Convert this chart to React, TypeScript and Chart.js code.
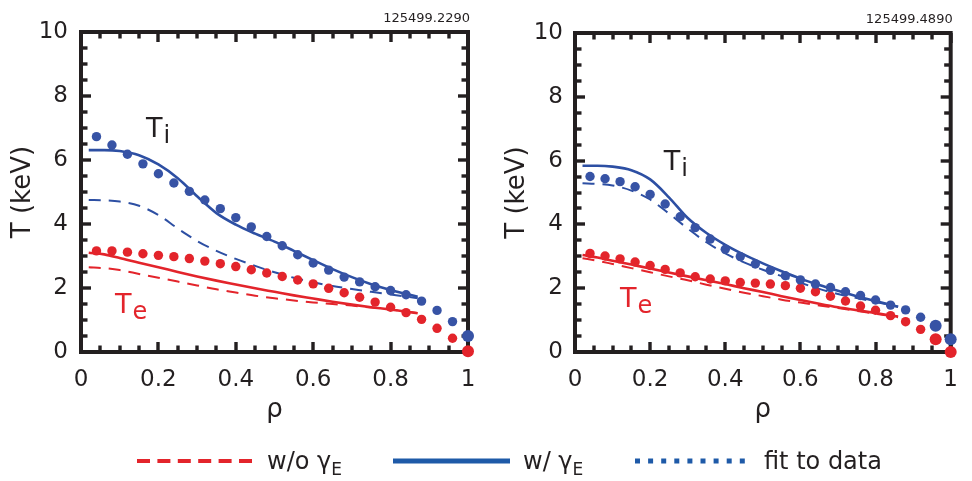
import React, { useEffect, useRef } from "react";
import { Chart, registerables } from "chart.js";
Chart.register(...registerables);

// ---------- data ----------
const xTickLabels = ["0", "0.2", "0.4", "0.6", "0.8", "1"];
const yTickLabels = ["0", "2", "4", "6", "8", "10"];

const rhoFit = [0.04, 0.08, 0.12, 0.16, 0.2, 0.24, 0.28, 0.32, 0.36, 0.4, 0.44, 0.48, 0.52, 0.56, 0.6, 0.64, 0.68, 0.72, 0.76, 0.8, 0.84, 0.88, 0.92, 0.96, 1.0];

const leftTiFit = [6.73, 6.47, 6.18, 5.88, 5.57, 5.28, 5.02, 4.75, 4.48, 4.2, 3.91, 3.61, 3.32, 3.04, 2.78, 2.56, 2.34, 2.19, 2.04, 1.92, 1.79, 1.59, 1.3, 0.95, 0.5];
const leftTeFit = [3.16, 3.16, 3.12, 3.07, 3.02, 2.98, 2.92, 2.84, 2.76, 2.67, 2.57, 2.47, 2.36, 2.25, 2.13, 1.99, 1.85, 1.71, 1.56, 1.4, 1.23, 1.02, 0.74, 0.43, 0.02];
const rightTiFit = [5.5, 5.43, 5.34, 5.18, 4.94, 4.64, 4.24, 3.9, 3.54, 3.22, 2.99, 2.76, 2.56, 2.39, 2.26, 2.13, 2.02, 1.89, 1.77, 1.63, 1.47, 1.32, 1.09, 0.82, 0.4];
const rightTeFit = [3.09, 3.01, 2.92, 2.82, 2.71, 2.59, 2.48, 2.36, 2.29, 2.23, 2.18, 2.16, 2.13, 2.08, 2.0, 1.89, 1.75, 1.6, 1.44, 1.31, 1.14, 0.95, 0.71, 0.4, 0.0];

const rhoModelLeft = [0.02, 0.06, 0.1, 0.15, 0.2, 0.25, 0.3, 0.35, 0.4, 0.45, 0.5, 0.55, 0.6, 0.65, 0.7, 0.75, 0.8, 0.87];
const leftTiWith = [6.31, 6.31, 6.28, 6.15, 5.86, 5.43, 4.87, 4.34, 3.98, 3.7, 3.45, 3.16, 2.87, 2.59, 2.34, 2.12, 1.94, 1.73];
const leftTiWithout = [4.75, 4.74, 4.7, 4.57, 4.28, 3.86, 3.47, 3.16, 2.91, 2.69, 2.49, 2.32, 2.18, 2.06, 1.97, 1.88, 1.8, 1.68];
const leftTeWith = [3.1, 3.05, 2.94, 2.79, 2.65, 2.5, 2.36, 2.23, 2.11, 1.99, 1.88, 1.77, 1.67, 1.57, 1.48, 1.4, 1.33, 1.21];
const leftTeWithout = [2.65, 2.62, 2.56, 2.44, 2.32, 2.2, 2.08, 1.96, 1.86, 1.76, 1.68, 1.61, 1.55, 1.5, 1.45, 1.39, 1.33, 1.22];

const rhoModelRight = [0.02, 0.06, 0.1, 0.15, 0.2, 0.25, 0.3, 0.35, 0.4, 0.45, 0.5, 0.55, 0.6, 0.65, 0.7, 0.75, 0.8, 0.86];
const rightTiWith = [5.84, 5.84, 5.81, 5.7, 5.41, 4.85, 4.2, 3.73, 3.36, 3.05, 2.78, 2.53, 2.3, 2.1, 1.92, 1.75, 1.6, 1.42];
const rightTiWithout = [5.29, 5.27, 5.22, 5.06, 4.78, 4.34, 3.87, 3.44, 3.09, 2.81, 2.58, 2.38, 2.17, 1.98, 1.82, 1.69, 1.57, 1.42];
const rightTeWith = [3.04, 2.96, 2.86, 2.74, 2.62, 2.49, 2.37, 2.25, 2.13, 2.0, 1.88, 1.75, 1.63, 1.51, 1.4, 1.31, 1.22, 1.11];
const rightTeWithout = [2.94, 2.86, 2.76, 2.63, 2.5, 2.37, 2.25, 2.11, 1.98, 1.86, 1.75, 1.64, 1.55, 1.46, 1.38, 1.29, 1.2, 1.09];

// ---------- styles ----------
const INK = "#231f20";
const BLUE_LINE = "#2d4fa3";
const BLUE_DOT = "#3753a5";
const RED = "#e3242b";
const LEG_BLUE = "#1e5aa8";
const FONT = "'DejaVu Sans', sans-serif";

const xy = (xs: number[], ys: number[]) => xs.map((x, i) => ({ x, y: ys[i] }));

function drawSub(ctx: CanvasRenderingContext2D, main: string, sub: string, x: number, y: number, color: string) {
  ctx.fillStyle = color;
  ctx.textAlign = "left";
  ctx.textBaseline = "alphabetic";
  ctx.font = `27px ${FONT}`;
  ctx.fillText(main, x, y);
  const w = ctx.measureText(main).width;
  ctx.font = `24px ${FONT}`;
  ctx.fillText(sub, x + w + 1, y + 6);
}

const decorPlugin = {
  id: "decor",
  beforeDatasetsDraw(chart: any) {
    const { ctx, chartArea: a, scales } = chart;
    const xs = scales.x, ys = scales.y;
    ctx.save();
    ctx.setLineDash([]);
    ctx.fillStyle = INK;
    const tw = 3.4;
    for (let i = 0; i <= 20; i++) {
      const px = Math.round(xs.getPixelForValue(i * 0.05));
      const len = i % 4 === 0 ? 10 : 6.5;
      ctx.fillRect(px - tw / 2, a.bottom - len, tw, len);
      ctx.fillRect(px - tw / 2, a.top, tw, len);
    }
    for (let i = 0; i <= 20; i++) {
      const py = Math.round(ys.getPixelForValue(i * 0.5));
      const len = i % 4 === 0 ? 10 : 6.5;
      ctx.fillRect(a.left, py - tw / 2, len, tw);
      ctx.fillRect(a.right - len, py - tw / 2, len, tw);
    }
    ctx.strokeStyle = INK;
    ctx.lineWidth = 4;
    ctx.lineJoin = "miter";
    ctx.strokeRect(a.left, a.top, a.right - a.left, a.bottom - a.top);
    ctx.restore();
  },
  afterDatasetsDraw(chart: any, _a: any, o: any) {
    const { ctx, chartArea: a, scales } = chart;
    const xs = scales.x, ys = scales.y;
    ctx.save();
    ctx.fillStyle = INK;
    ctx.font = `13px ${FONT}`;
    ctx.textAlign = "right";
    ctx.textBaseline = "alphabetic";
    ctx.fillText(o.shot, a.right + 2, a.top - 10);
    drawSub(ctx, "T", "i", xs.getPixelForValue(o.tiAt[0]), ys.getPixelForValue(o.tiAt[1]), INK);
    drawSub(ctx, "T", "e", xs.getPixelForValue(o.teAt[0]), ys.getPixelForValue(o.teAt[1]), RED);
    ctx.fillStyle = INK;
    ctx.font = `26px ${FONT}`;
    ctx.textAlign = "center";
    ctx.textBaseline = "alphabetic";
    ctx.fillText("ρ", (a.left + a.right) / 2, a.bottom + 65);
    ctx.translate(o.yTitleX, (a.top + a.bottom) / 2);
    ctx.rotate(-Math.PI / 2);
    ctx.textBaseline = "middle";
    ctx.fillText("T (keV)", 0, 0);
    ctx.restore();
  },
};

type PanelCfg = {
  shot: string;
  rhoModel: number[];
  tiWith: number[]; tiWithout: number[]; teWith: number[]; teWithout: number[];
  tiFit: number[]; teFit: number[];
  bigFrom: number;
  left: number; width: number; height: number;
  yAxisWidth: number; padRight: number; padTop: number; padBottom: number;
  yLabelPad: number; yTitleX: number;
  tiAt: [number, number]; teAt: [number, number];
};

function Panel({ cfg }: { cfg: PanelCfg }) {
  const ref = useRef<HTMLCanvasElement | null>(null);
  useEffect(() => {
    if (!ref.current) return;
    const radius = (c: any) => (c.dataIndex >= cfg.bigFrom ? 6 : 4.7);
    const line = (data: number[], color: string, dashed: boolean) => ({
      type: "line",
      data: xy(cfg.rhoModel, data),
      borderColor: color,
      borderWidth: dashed ? 2 : 2.6,
      borderDash: dashed ? [12, 8] : [],
      pointRadius: 0,
      fill: false,
      cubicInterpolationMode: "monotone",
    });
    const dots = (data: number[], color: string) => ({
      type: "line",
      data: xy(rhoFit, data),
      showLine: false,
      pointRadius: radius,
      pointBackgroundColor: color,
      pointBorderWidth: 0,
      borderColor: color,
      clip: false,
    });
    const chart = new Chart(ref.current, {
      type: "line",
      data: {
        datasets: [
          dots(cfg.tiFit, BLUE_DOT),
          dots(cfg.teFit, RED),
          line(cfg.tiWith, BLUE_LINE, false),
          line(cfg.tiWithout, BLUE_LINE, true),
          line(cfg.teWith, RED, false),
          line(cfg.teWithout, RED, true),
        ] as any,
      },
      options: {
        responsive: false,
        animation: false,
        events: [],
        layout: { padding: { left: 0, right: cfg.padRight, top: cfg.padTop, bottom: cfg.padBottom } },
        plugins: {
          legend: { display: false },
          tooltip: { enabled: false },
          decor: { shot: cfg.shot, tiAt: cfg.tiAt, teAt: cfg.teAt, yTitleX: cfg.yTitleX },
        } as any,
        scales: {
          x: {
            type: "linear",
            min: 0,
            max: 1,
            grid: { display: false, drawTicks: false },
            border: { display: false },
            ticks: {
              stepSize: 0.2,
              padding: 14,
              color: INK,
              font: { family: FONT, size: 23 },
              maxRotation: 0,
              callback: (_v: any, i: number) => xTickLabels[i],
            },
            afterFit: (s: any) => { s.height = 60; },
          },
          y: {
            type: "linear",
            min: 0,
            max: 10,
            grid: { display: false, drawTicks: false },
            border: { display: false },
            ticks: {
              stepSize: 2,
              padding: cfg.yLabelPad,
              color: INK,
              font: { family: FONT, size: 23 },
              callback: (_v: any, i: number) => yTickLabels[i],
            },
            afterFit: (s: any) => { s.width = cfg.yAxisWidth; },
          },
        } as any,
      },
      plugins: [decorPlugin as any],
    });
    return () => chart.destroy();
  }, [cfg]);
  return (
    <canvas
      ref={ref}
      width={cfg.width}
      height={cfg.height}
      style={{ position: "absolute", left: cfg.left, top: 0, width: cfg.width, height: cfg.height }}
    />
  );
}

const leftCfg: PanelCfg = {
  shot: "125499.2290",
  rhoModel: rhoModelLeft,
  tiWith: leftTiWith, tiWithout: leftTiWithout, teWith: leftTeWith, teWithout: leftTeWithout,
  tiFit: leftTiFit, teFit: leftTeFit,
  bigFrom: 24,
  left: 0, width: 490, height: 430,
  yAxisWidth: 81, padRight: 22, padTop: 32, padBottom: 18,
  yLabelPad: 13, yTitleX: 23,
  tiAt: [0.168, 6.72], teAt: [0.088, 1.22],
};

const rightCfg: PanelCfg = {
  shot: "125499.4890",
  rhoModel: rhoModelRight,
  tiWith: rightTiWith, tiWithout: rightTiWithout, teWith: rightTeWith, teWithout: rightTeWithout,
  tiFit: rightTiFit, teFit: rightTeFit,
  bigFrom: 23,
  left: 490, width: 482, height: 430,
  yAxisWidth: 85, padRight: 7, padTop: 33, padBottom: 18,
  yLabelPad: 12, yTitleX: 27,
  tiAt: [0.236, 5.7], teAt: [0.12, 1.41],
};

function Legend() {
  const ty = 469;
  return (
    <svg
      width={972}
      height={481}
      style={{ position: "absolute", left: 0, top: 0, pointerEvents: "none" }}
      fontFamily="DejaVu Sans, sans-serif"
    >
      <line x1={137} y1={461} x2={252} y2={461} stroke={RED} strokeWidth={4} strokeDasharray="13 7.4" />
      <text x={267} y={ty} fontSize={24} fill={INK}>
        w/o γ<tspan fontSize={17} dy={6}>E</tspan>
      </text>
      <line x1={393} y1={461} x2={510} y2={461} stroke={LEG_BLUE} strokeWidth={5} />
      <text x={523} y={ty} fontSize={24} fill={INK}>
        w/ γ<tspan fontSize={17} dy={6}>E</tspan>
      </text>
      <line x1={635} y1={461} x2={745} y2={461} stroke={LEG_BLUE} strokeWidth={5} strokeDasharray="5 8.1" />
      <text x={764} y={ty} fontSize={24} fill={INK}>fit to data</text>
    </svg>
  );
}

export default function App() {
  return (
    <div style={{ position: "absolute", left: 0, top: 0, width: 972, height: 481, background: "#fff" }}>
      <Panel cfg={leftCfg} />
      <Panel cfg={rightCfg} />
      <Legend />
    </div>
  );
}
